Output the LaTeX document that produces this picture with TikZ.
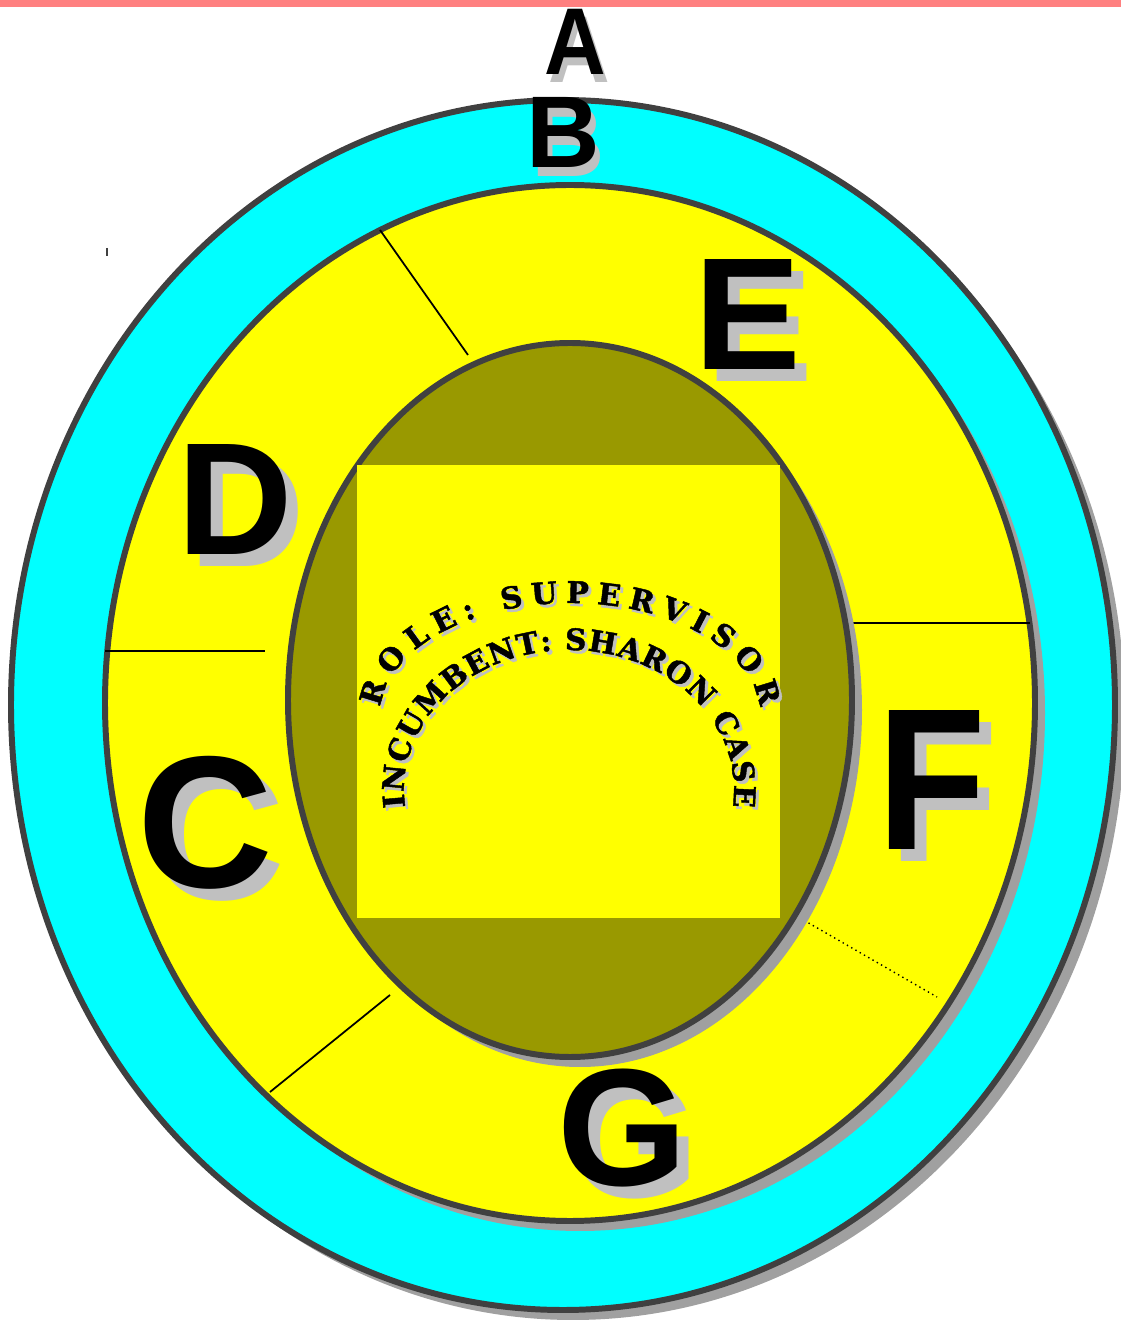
\documentclass[tikz,border=0pt]{standalone}
\usepackage{fontspec}
\usepackage{tikz}
\usetikzlibrary{decorations.text}
\newfontfamily\letterfont{Liberation Sans}
\newfontfamily\arcfont[BoldFeatures={FakeBold=1.5}]{DejaVu Serif}
\definecolor{RingCyan}{RGB}{0,255,255}
\definecolor{RingYellow}{RGB}{255,255,0}
\definecolor{CoreOlive}{RGB}{153,153,0}
\definecolor{RingLine}{RGB}{64,64,64}
\definecolor{RingShadow}{RGB}{160,160,160}
\definecolor{LetterShadow}{RGB}{192,192,192}
\definecolor{TopBand}{RGB}{255,128,128}

\begin{document}
\begin{tikzpicture}[x=0.02cm,y=0.02cm,
  ring/.style={draw=RingLine,line width=3.4pt},
  ringshadow/.style={fill=RingShadow},
  divider/.style={black,line width=1pt},
  bigletter/.style={inner sep=0pt,anchor=base,font=\letterfont\bfseries}]
  \useasboundingbox (0,0) rectangle (1121,1320);
  \fill[TopBand] (0,1313) rectangle (1121,1320);

  % outer ring
  \fill[ringshadow] (573,605) ellipse[x radius=552,y radius=605];
  \filldraw[ring,fill=RingCyan] (563,615) ellipse[x radius=552,y radius=605];

  % middle ring
  \fill[ringshadow] (580,607) ellipse[x radius=465,y radius=518];
  \filldraw[ring,fill=RingYellow] (570,617) ellipse[x radius=465,y radius=518];

  % dividers
  \coordinate (nw1) at (380,1090); \coordinate (nw2) at (468,965);
  \coordinate (w1) at (105,669);   \coordinate (w2) at (265,669);
  \coordinate (e1) at (848,697);   \coordinate (e2) at (1030,697);
  \coordinate (se1) at (800,402);  \coordinate (se2) at (937,323);
  \coordinate (sw1) at (270,228);  \coordinate (sw2) at (390,325);
  \draw[divider] (nw1) -- (nw2);
  \draw[divider] (w1) -- (w2);
  \draw[divider] (e1) -- (e2);
  \draw[divider,line width=0.8pt,dotted] (se1) -- (se2);
  \draw[divider] (sw1) -- (sw2);
  \coordinate (tick1) at (107,1072); \coordinate (tick2) at (107,1064);
  \draw[RingLine,line width=0.8pt] (tick1) -- (tick2);

  % core
  \fill[ringshadow] (580,610) ellipse[x radius=282,y radius=357];
  \filldraw[ring,fill=CoreOlive] (570,620) ellipse[x radius=282,y radius=357];
  \fill[RingYellow] (357,402) rectangle (780,855);

  % arc texts
  \path[decorate,decoration={text along path,text align=fit to path,
    text={|\arcfont\bfseries\fontsize{17}{17}\selectfont\color{LetterShadow}|ROLE: SUPERVISOR}}]
    (573,602) ++(176:190 and 112) arc[start angle=176,end angle=4,x radius=190,y radius=112];
  \path[decorate,decoration={text along path,text align=fit to path,
    text={|\arcfont\bfseries\fontsize{17}{17}\selectfont|ROLE: SUPERVISOR}}]
    (570,605) ++(176:190 and 112) arc[start angle=176,end angle=4,x radius=190,y radius=112];
  \path[decorate,decoration={text along path,text align=fit to path,
    text={|\arcfont\bfseries\fontsize{16.8}{16.8}\selectfont\color{LetterShadow}|INCUMBENT: SHARON CASE}}]
    (572,527) ++(187:165 and 140) arc[start angle=187,end angle=-7,x radius=165,y radius=140];
  \path[decorate,decoration={text along path,text align=fit to path,
    text={|\arcfont\bfseries\fontsize{16.8}{16.8}\selectfont|INCUMBENT: SHARON CASE}}]
    (569,530) ++(187:165 and 140) arc[start angle=187,end angle=-7,x radius=165,y radius=140];

  % letters
  \node[bigletter,LetterShadow,xscale=0.9,font=\letterfont\bfseries\fontsize{54}{54}\selectfont] (A-s) at (579,1237) {A};
  \node[bigletter,xscale=0.9,font=\letterfont\bfseries\fontsize{54}{54}\selectfont] (A) at (575,1245) {A};
  \node[bigletter,LetterShadow,font=\letterfont\bfseries\fontsize{58}{58}\selectfont] (B-s) at (568,1143) {B};
  \node[bigletter,font=\letterfont\bfseries\fontsize{58}{58}\selectfont] (B) at (563,1152) {B};
  \node[bigletter,LetterShadow,font=\letterfont\bfseries\fontsize{91}{91}\selectfont] (E-s) at (760,938) {E};
  \node[bigletter,font=\letterfont\bfseries\fontsize{91}{91}\selectfont] (E) at (748,950) {E};
  \node[bigletter,LetterShadow,font=\letterfont\bfseries\fontsize{91}{91}\selectfont] (D-s) at (247,753) {D};
  \node[bigletter,font=\letterfont\bfseries\fontsize{91}{91}\selectfont] (D) at (235,765) {D};
  \node[bigletter,LetterShadow,font=\letterfont\bfseries\fontsize{107}{107}\selectfont] (C-s) at (217,420) {C};
  \node[bigletter,font=\letterfont\bfseries\fontsize{107}{107}\selectfont] (C) at (205,432) {C};
  \node[bigletter,LetterShadow,xscale=0.88,font=\letterfont\bfseries\fontsize{115}{115}\selectfont] (F-s) at (944,458) {F};
  \node[bigletter,xscale=0.88,font=\letterfont\bfseries\fontsize{115}{115}\selectfont] (F) at (932,470) {F};
  \node[bigletter,LetterShadow,font=\letterfont\bfseries\fontsize{95}{95}\selectfont] (G-s) at (634,122) {G};
  \node[bigletter,font=\letterfont\bfseries\fontsize{95}{95}\selectfont] (G) at (622,134) {G};
\end{tikzpicture}
\end{document}
